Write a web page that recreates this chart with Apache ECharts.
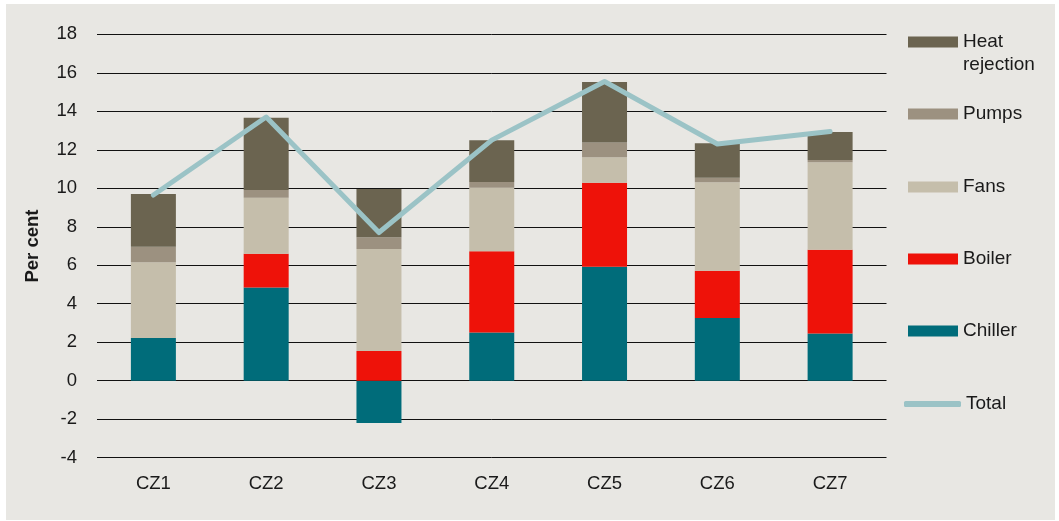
<!DOCTYPE html>
<html>
<head>
<meta charset="utf-8">
<script src="https://cdn.jsdelivr.net/npm/echarts@6/dist/echarts.min.js"></script>
<style>
  html, body { margin: 0; padding: 0; background: #ffffff; }
  #bg { position: absolute; left: 6px; top: 4px; width: 1049px; height: 516px; background: #e8e7e3; }
  #chart { position: absolute; left: 0; top: 0; width: 1059px; height: 521px; }
</style>
</head>
<body>
<div id="bg"></div>
<div id="chart"></div>
<script>
const categories = ['CZ1', 'CZ2', 'CZ3', 'CZ4', 'CZ5', 'CZ6', 'CZ7'];
const chiller = [2.22, 4.84, -2.2, 2.5, 5.92, 3.26, 2.45];
const boiler = [0, 1.76, 1.54, 4.23, 4.36, 2.45, 4.35];
const fans = [3.93, 2.91, 5.3, 3.3, 1.33, 4.6, 4.55];
const pumps = [0.81, 0.4, 0.62, 0.3, 0.77, 0.23, 0.12];
const heatRejection = [2.74, 3.76, 2.5, 2.17, 3.14, 1.8, 1.45];
const total = [9.65, 13.7, 7.7, 12.5, 15.55, 12.3, 12.95];
const yTicks = { min: -4, max: 18, interval: 2 };

const FONT = 'Liberation Sans';
const TXT = '#1a1a1a';
const colors = {
  'Heat rejection': '#6b6450',
  'Pumps': '#9c9180',
  'Fans': '#c5beab',
  'Boiler': '#ee1209',
  'Chiller': '#006c7a',
  'Total': '#9bc3c6'
};

function bar(name, data) {
  return {
    name: name, type: 'bar', stack: 'a', data: data, barWidth: 45,
    itemStyle: { color: colors[name] }
  };
}

function legendItem(name, centerY, opts) {
  opts = opts || {};
  return {
    data: [{ name: name, icon: opts.icon || 'rect' }],
    orient: 'vertical',
    left: opts.left || 908,
    top: centerY - 11.5 - (opts.extraTop || 0),
    padding: 0,
    itemWidth: opts.w || 50,
    itemHeight: opts.h || 11,
    formatter: opts.formatter,
    textStyle: { fontFamily: FONT, fontSize: 19, color: TXT, lineHeight: 23 },
    selectedMode: false
  };
}

const chart = echarts.init(document.getElementById('chart'));
chart.setOption({
  animation: false,
  backgroundColor: 'transparent',
  grid: { left: 97, right: 172.5, top: 34.3, bottom: 63.3, containLabel: false },
  legend: [
    legendItem('Heat rejection', 42, { formatter: ' \nHeat\nrejection', extraTop: 23 }),
    legendItem('Pumps', 114),
    legendItem('Fans', 187),
    legendItem('Boiler', 259),
    legendItem('Chiller', 331),
    legendItem('Total', 404, { icon: 'roundRect', left: 904, w: 57, h: 6 })
  ],
  xAxis: {
    type: 'category', data: categories,
    axisLine: { show: false }, axisTick: { show: false },
    axisLabel: { fontFamily: FONT, fontSize: 18.5, color: TXT, margin: 17 }
  },
  yAxis: {
    type: 'value', min: yTicks.min, max: yTicks.max, interval: yTicks.interval,
    name: 'Per cent', nameLocation: 'middle', nameGap: 55,
    nameTextStyle: { fontFamily: FONT, fontSize: 18.5, fontWeight: 'bold', color: TXT },
    axisLine: { show: false }, axisTick: { show: false },
    axisLabel: { fontFamily: FONT, fontSize: 18.5, color: TXT, margin: 20 },
    splitLine: { lineStyle: { color: '#111111', width: 1 } }
  },
  series: [
    bar('Chiller', chiller),
    bar('Boiler', boiler),
    bar('Fans', fans),
    bar('Pumps', pumps),
    bar('Heat rejection', heatRejection),
    {
      name: 'Total', type: 'line', data: total, showSymbol: false, symbol: 'none', z: 5,
      itemStyle: { color: colors['Total'] },
      lineStyle: { color: colors['Total'], width: 5, cap: 'round', join: 'round' }
    }
  ]
});
</script>
</body>
</html>
